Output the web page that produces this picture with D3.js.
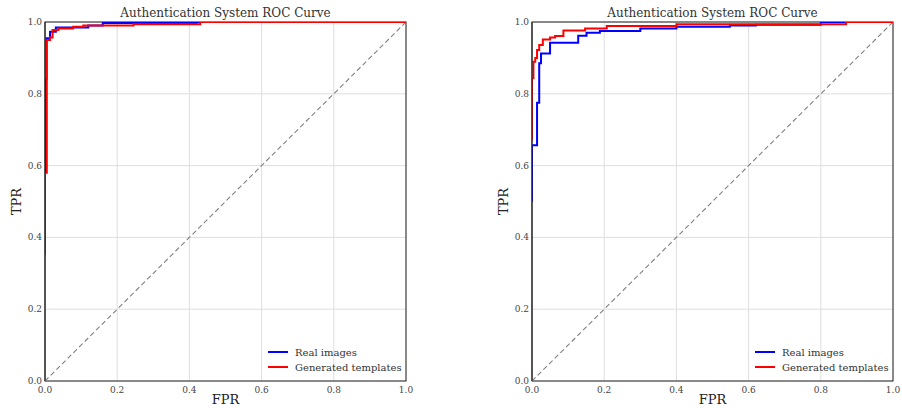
<!DOCTYPE html>
<html>
<head>
<meta charset="utf-8">
<script src="https://cdn.jsdelivr.net/npm/d3@7"></script>
<style>
  body { margin: 0; background: #fff; }
  svg text { font-family: "DejaVu Serif", serif; }
</style>
</head>
<body>
<div id="chart"></div>
<script>
// ROC points [fpr, tpr]
const leftReal = [[0,0.5],[0,0.84],[0.004,0.84],[0.004,0.955],[0.014,0.955],[0.014,0.973],
  [0.03,0.973],[0.03,0.985],[0.12,0.985],[0.12,0.99],[0.16,0.99],[0.16,0.997],
  [0.42,0.997],[0.42,1],[1,1]];
const leftGenerated = [[0,0.35],[0,0.58],[0.005,0.58],[0.005,0.95],[0.014,0.95],[0.014,0.957],
  [0.021,0.957],[0.021,0.978],[0.037,0.978],[0.037,0.982],[0.078,0.982],[0.078,0.987],
  [0.106,0.987],[0.106,0.99],[0.245,0.99],[0.245,0.994],[0.43,0.994],[0.43,1],[1,1]];
const rightReal = [[0,0.5],[0,0.657],[0.014,0.657],[0.014,0.775],[0.02,0.775],[0.02,0.885],
  [0.025,0.885],[0.025,0.912],[0.05,0.912],[0.05,0.942],[0.128,0.942],[0.128,0.962],
  [0.151,0.962],[0.151,0.97],[0.188,0.97],[0.188,0.975],[0.3,0.975],[0.3,0.982],
  [0.4,0.982],[0.4,0.987],[0.548,0.987],[0.548,0.99],[0.62,0.99],[0.62,0.992],
  [0.8,0.992],[0.8,1],[1,1]];
const rightGenerated = [[0,0.67],[0,0.843],[0.004,0.843],[0.004,0.889],[0.009,0.889],[0.009,0.9],
  [0.014,0.9],[0.014,0.922],[0.02,0.922],[0.02,0.936],[0.03,0.936],[0.03,0.951],
  [0.05,0.951],[0.05,0.957],[0.064,0.957],[0.064,0.961],[0.087,0.961],[0.087,0.976],
  [0.147,0.976],[0.147,0.982],[0.207,0.982],[0.207,0.989],[0.4,0.989],[0.4,0.994],
  [0.87,0.994],[0.87,1],[1,1]];

const ticks = [0, 0.2, 0.4, 0.6, 0.8, 1.0];
const seriesNames = ["Real images", "Generated templates"];
const seriesColors = ["#0000ff", "#ff0000"];
const title = "Authentication System ROC Curve";

const width = 902, height = 408;
const font = "DejaVu Serif";
const svg = d3.select("#chart").append("svg")
  .attr("width", width)
  .attr("height", height)
  .attr("font-family", font);

const panels = [
  {left: 45, data: [leftReal, leftGenerated]},
  {left: 532, data: [rightReal, rightGenerated]}
];
const plotW = 361, plotTop = 22, plotH = 359;

panels.forEach(function(p, pi) {
  const x = d3.scaleLinear().domain([0, 1]).range([p.left, p.left + plotW]);
  const y = d3.scaleLinear().domain([0, 1]).range([plotTop + plotH, plotTop]);
  const g = svg.append("g");

  g.append("clipPath").attr("id", "clip" + pi)
    .append("rect")
    .attr("x", p.left).attr("y", plotTop)
    .attr("width", plotW).attr("height", plotH);

  // grid
  g.selectAll(".gx").data(ticks).enter().append("line")
    .attr("x1", d => x(d)).attr("x2", d => x(d))
    .attr("y1", plotTop).attr("y2", plotTop + plotH)
    .attr("stroke", "#dedede").attr("stroke-width", 1);
  g.selectAll(".gy").data(ticks).enter().append("line")
    .attr("x1", p.left).attr("x2", p.left + plotW)
    .attr("y1", d => y(d)).attr("y2", d => y(d))
    .attr("stroke", "#dedede").attr("stroke-width", 1);

  // frame (drawn under the curves so the TPR=1 segments show)
  g.append("rect")
    .attr("x", p.left).attr("y", plotTop)
    .attr("width", plotW).attr("height", plotH)
    .attr("fill", "none").attr("stroke", "#222").attr("stroke-width", 1);

  // chance line
  g.append("line")
    .attr("x1", x(0)).attr("y1", y(0))
    .attr("x2", x(1)).attr("y2", y(1))
    .attr("stroke", "#808080").attr("stroke-width", 1.1)
    .attr("stroke-dasharray", "5,3");

  const line = d3.line().x(d => x(d[0])).y(d => y(d[1]));
  p.data.forEach(function(s, i) {
    g.append("path")
      .attr("d", line(s))
      .attr("clip-path", `url(#clip${pi})`)
      .attr("fill", "none")
      .attr("stroke", seriesColors[i])
      .attr("stroke-width", 2);
  });

  // left spine stays on top, as in the original
  g.append("line")
    .attr("x1", p.left).attr("x2", p.left)
    .attr("y1", plotTop).attr("y2", plotTop + plotH)
    .attr("stroke", "#222").attr("stroke-width", 1);

  // tick labels
  g.selectAll(".tx").data(ticks).enter().append("text")
    .attr("x", d => x(d)).attr("y", plotTop + plotH + 12)
    .attr("text-anchor", "middle")
    .attr("font-family", font)
    .attr("font-size", 9).attr("fill", "#444")
    .text(d => d.toFixed(1));
  g.selectAll(".ty").data(ticks).enter().append("text")
    .attr("x", p.left - 3).attr("y", d => y(d) + 3)
    .attr("text-anchor", "end")
    .attr("font-family", font)
    .attr("font-size", 9).attr("fill", "#444")
    .text(d => d.toFixed(1));

  // title and axis labels
  g.append("text")
    .attr("x", p.left + plotW / 2).attr("y", 17)
    .attr("text-anchor", "middle")
    .attr("font-family", font)
    .attr("font-size", 12).attr("fill", "#333")
    .text(title);
  g.append("text")
    .attr("x", p.left + plotW / 2).attr("y", 404)
    .attr("text-anchor", "middle")
    .attr("font-family", font)
    .attr("font-size", 13).attr("fill", "#222")
    .text("FPR");
  g.append("text")
    .attr("transform", `translate(${p.left - 24}, ${plotTop + plotH / 2}) rotate(-90)`)
    .attr("text-anchor", "middle")
    .attr("font-family", font)
    .attr("font-size", 13).attr("fill", "#222")
    .text("TPR");

  // legend
  const lg = g.append("g")
    .attr("transform", `translate(${p.left + plotW - 138}, 352)`);
  seriesNames.forEach(function(name, i) {
    lg.append("line")
      .attr("x1", 0).attr("x2", 20)
      .attr("y1", i * 15).attr("y2", i * 15)
      .attr("stroke", seriesColors[i]).attr("stroke-width", 2);
    lg.append("text")
      .attr("x", 27).attr("y", i * 15 + 3.5)
      .attr("font-family", font)
      .attr("font-size", 10).attr("fill", "#333")
      .text(name);
  });
});
</script>
</body>
</html>
